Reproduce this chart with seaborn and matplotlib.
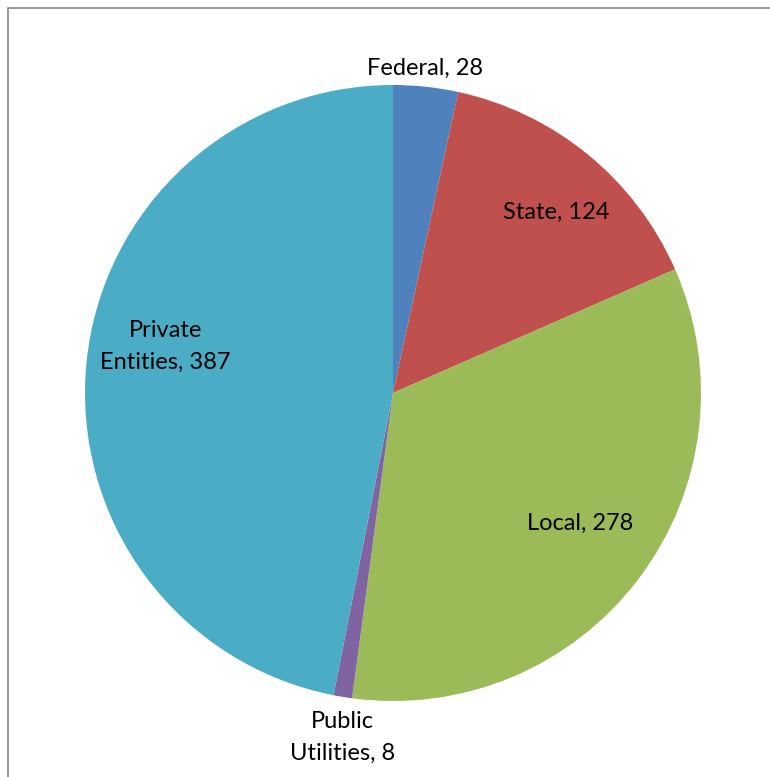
import matplotlib
matplotlib.use("Agg")
import matplotlib.pyplot as plt
import seaborn as sns
import numpy as np
from matplotlib.patches import Rectangle

# Data
categories = ["Federal", "State", "Local", "Public\nUtilities", "Private\nEntities"]
values = [28, 124, 278, 8, 387]
colors = ["#4F81BD", "#C0504D", "#9BBB59", "#8064A2", "#4BACC6"]

# label placement (radial distance, angle nudge in degrees) per slice
label_dist = [1.06, 0.79, 0.74, 1.13, 0.755]
label_nudge = [0.5, -2.7, 2.2, 1.0, -5.9]

sns.set_style("white")
plt.rcParams["font.family"] = ["Lato", "DejaVu Sans"]

fig = plt.figure(figsize=(7.7, 7.77), dpi=100)
ax = fig.add_axes([85 / 770, 76 / 777, 616 / 770, 616 / 777])

palette = sns.color_palette(colors)
wedges, _ = ax.pie(values, colors=palette, startangle=90, counterclock=False,
                   radius=1, wedgeprops=dict(linewidth=0))

for w, cat, val, d, nudge in zip(wedges, categories, values, label_dist, label_nudge):
    mid = np.deg2rad((w.theta1 + w.theta2) / 2 + nudge)
    x, y = d * np.cos(mid), d * np.sin(mid)
    ax.text(x, y, f"{cat}, {val}", ha="center", va="center",
            fontsize=17, color="black", linespacing=1.65)

ax.set_xlim(-1, 1)
ax.set_ylim(-1, 1)
ax.set_aspect("auto")
ax.axis("off")

# chart area border (right and bottom sides fall outside the image)
fig.patches.append(Rectangle((7.5 / 770, -0.1), 1.2, 0.1 + (777 - 7.5) / 777,
                             transform=fig.transFigure, fill=False,
                             edgecolor="#878787", linewidth=1.2, zorder=10))

fig.savefig("out.png", dpi=100, facecolor="white")
